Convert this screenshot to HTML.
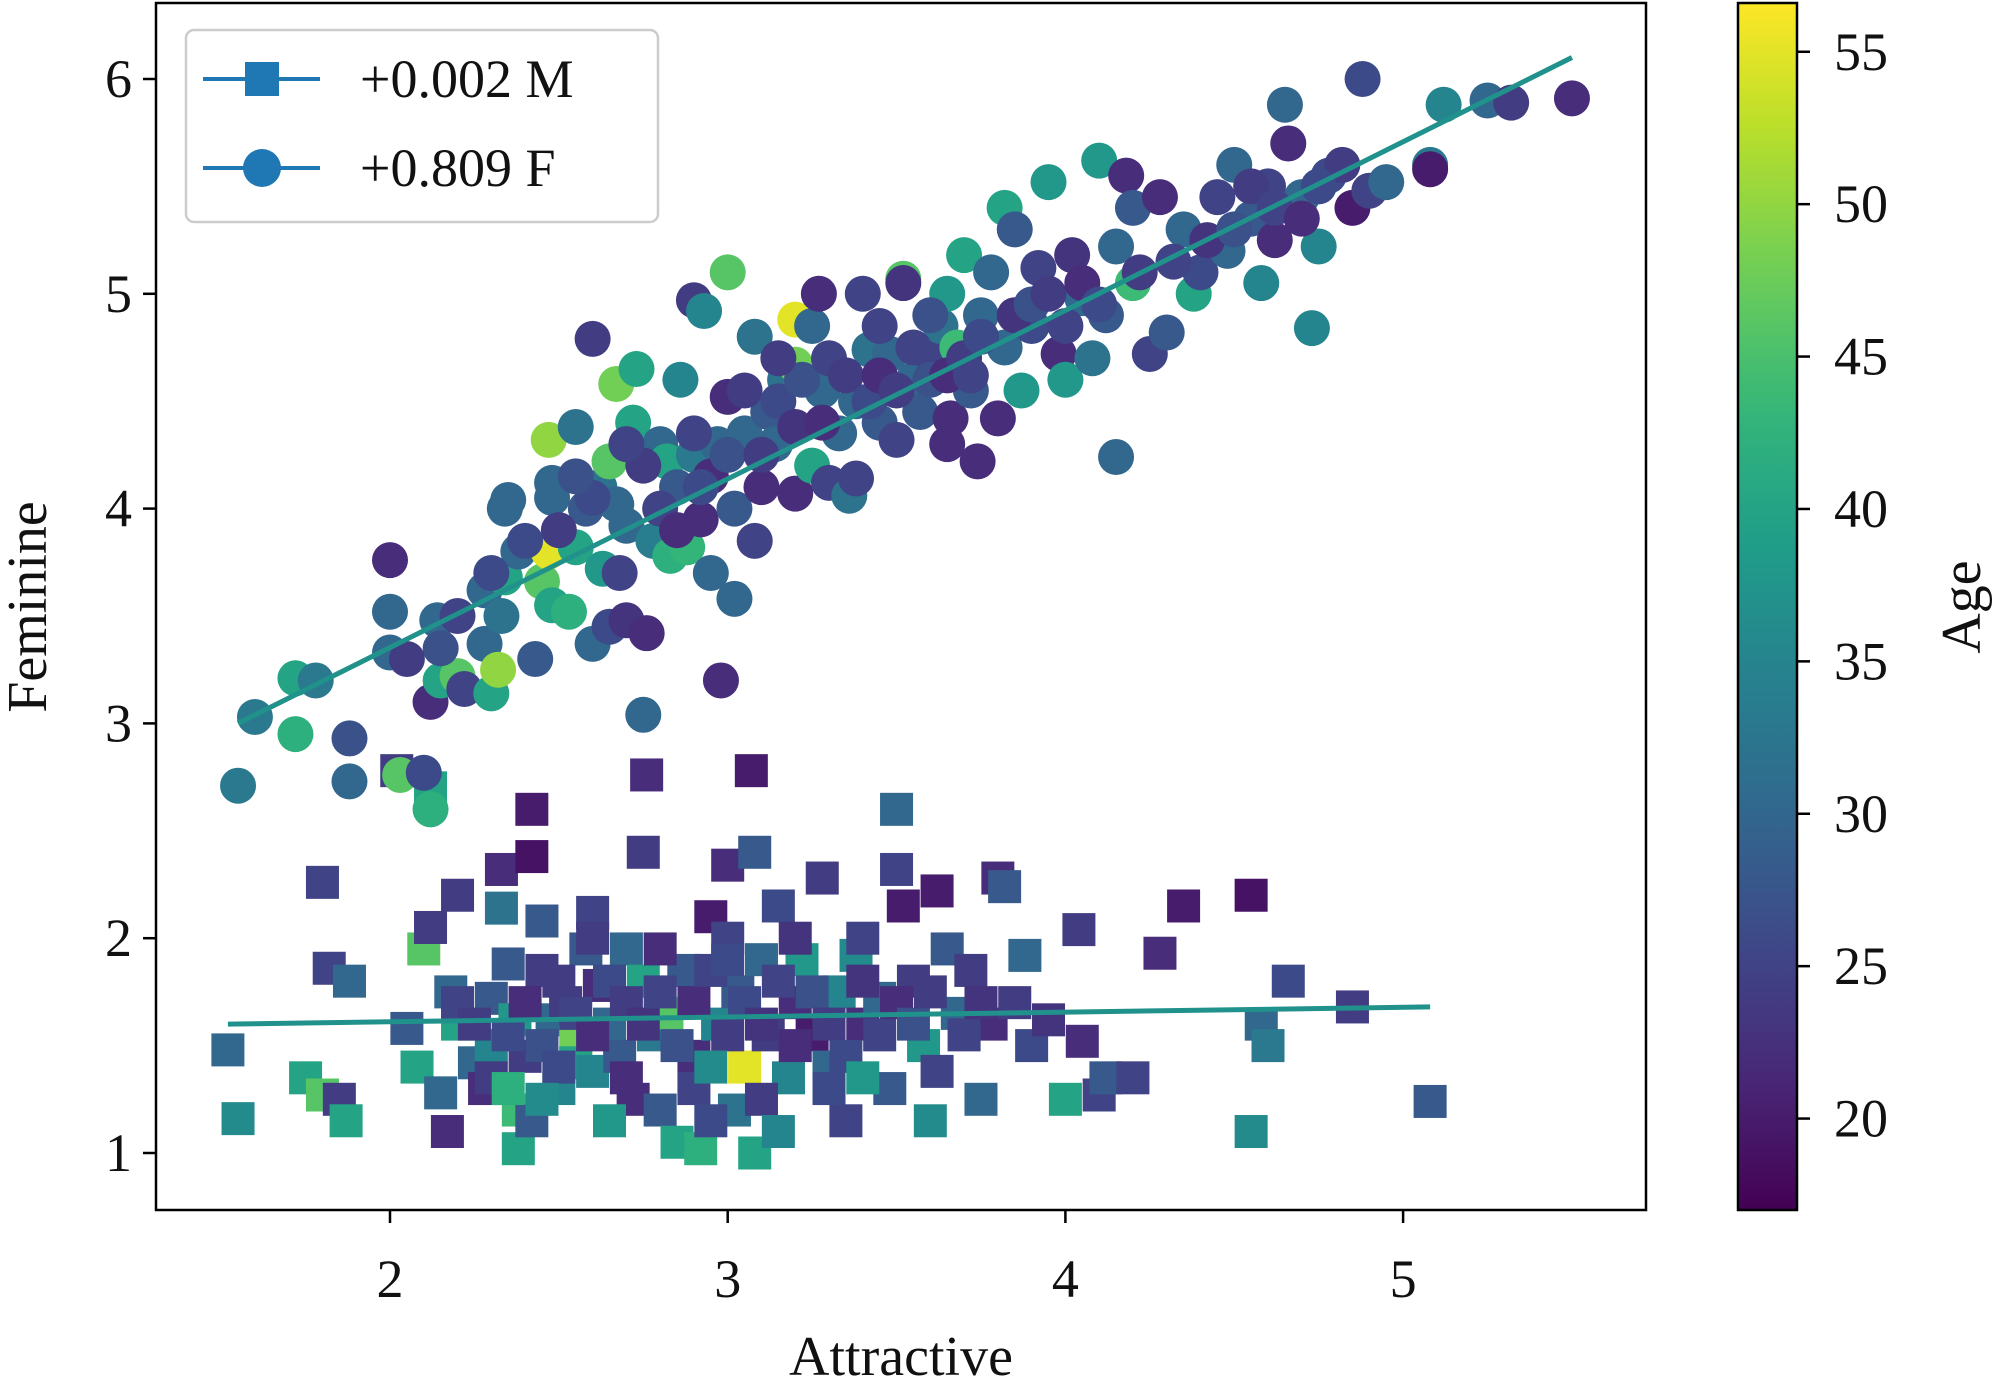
<!DOCTYPE html>
<html><head><meta charset="utf-8"><style>
html,body{margin:0;padding:0;background:#fff;}
svg text{font-family:"Liberation Serif",serif;fill:#111;}
</style></head><body>
<svg id="chart" width="1993" height="1392" viewBox="0 0 1993 1392" xmlns="http://www.w3.org/2000/svg"></svg>
<script>
const xTicks=[2,3,4,5];
const yTicks=[1,2,3,4,5,6];
const cTicks=[20,25,30,35,40,45,50,55];
const femPoints=[[1.55,2.71,33],[1.6,3.03,33],[1.72,3.21,40],[1.72,2.95,42],[1.78,3.2,33],[1.88,2.93,27],[1.88,2.73,30],[2.0,3.76,22],[2.0,3.52,30],[2.0,3.33,30],[2.03,2.76,46],[2.1,2.77,26],[2.12,2.6,42],[2.12,3.1,22],[2.14,3.48,30],[2.15,3.2,40],[2.2,3.22,46],[2.22,3.16,25],[2.28,3.37,30],[2.28,3.62,30],[2.3,3.14,40],[2.32,3.25,50],[2.33,3.5,32],[2.34,3.68,40],[2.34,4.0,30],[2.35,4.04,30],[2.38,3.8,30],[2.43,3.3,28],[2.45,3.66,46],[2.47,3.8,55],[2.47,4.32,50],[2.48,4.12,30],[2.48,4.05,30],[2.48,3.55,40],[2.53,3.52,42],[2.55,3.82,40],[2.55,4.38,32],[2.58,4.0,28],[2.6,4.79,24],[2.6,3.37,30],[2.62,4.1,32],[2.63,3.72,38],[2.65,3.45,26],[2.65,4.22,46],[2.67,4.58,48],[2.67,4.02,30],[2.68,3.7,25],[2.7,3.48,23],[2.7,3.92,30],[2.72,4.4,40],[2.73,4.65,40],[2.75,3.04,30],[2.76,3.42,22],[2.77,4.25,30],[2.78,3.85,34],[2.8,4.3,30],[2.82,4.22,40],[2.83,3.78,42],[2.85,4.1,28],[2.86,4.6,35],[2.88,3.82,43],[2.9,4.97,24],[2.9,4.25,33],[2.92,3.95,22],[2.93,4.92,35],[2.95,3.7,30],[2.97,4.3,30],[2.98,3.2,22],[3.0,5.1,46],[3.0,4.52,22],[3.02,3.58,30],[3.02,4.0,28],[3.05,4.35,30],[3.08,3.85,25],[3.08,4.8,32],[3.1,4.1,22],[3.12,4.45,28],[3.14,4.3,30],[3.17,4.6,32],[3.2,4.07,22],[3.2,4.88,55],[3.2,4.67,48],[3.25,4.85,30],[3.25,4.2,40],[3.27,5.0,22],[3.28,4.55,30],[3.3,4.12,25],[3.33,4.35,30],[3.36,4.06,32],[3.38,4.14,25],[3.38,4.5,30],[3.4,5.0,25],[3.42,4.74,32],[3.45,4.4,28],[3.48,4.72,30],[3.5,4.32,25],[3.52,5.07,46],[3.52,5.05,23],[3.55,4.6,30],[3.57,4.45,28],[3.6,4.72,25],[3.63,4.85,32],[3.65,5.0,38],[3.66,4.42,22],[3.68,4.75,44],[3.7,5.18,40],[3.72,4.55,28],[3.74,4.22,22],[3.75,4.9,30],[3.78,5.1,30],[3.8,4.42,22],[3.82,5.4,40],[3.82,4.75,30],[3.85,5.3,28],[3.87,4.55,38],[3.9,4.85,26],[3.92,5.12,25],[3.95,5.52,38],[3.98,4.72,22],[4.0,4.6,38],[4.02,5.18,23],[4.05,4.98,30],[4.08,4.7,32],[4.1,5.62,38],[4.12,4.9,28],[4.15,4.24,30],[4.15,5.22,30],[4.18,5.55,22],[4.2,5.4,28],[4.2,5.05,44],[4.25,4.72,25],[4.28,5.45,22],[4.3,4.82,28],[4.35,5.3,30],[4.38,5.0,40],[4.4,5.1,26],[4.45,5.45,25],[4.48,5.2,30],[4.5,5.6,30],[4.55,5.35,28],[4.58,5.05,35],[4.6,5.5,25],[4.62,5.25,22],[4.65,5.88,30],[4.66,5.7,22],[4.7,5.45,30],[4.73,4.84,35],[4.75,5.22,35],[4.78,5.55,26],[4.82,5.6,24],[4.85,5.4,20],[4.88,6.0,26],[4.9,5.48,25],[4.95,5.52,30],[5.08,5.6,33],[5.08,5.58,20],[5.12,5.88,35],[5.25,5.9,30],[5.32,5.89,24],[5.5,5.91,22],
[2.6,4.05,26],[2.75,4.2,24],[2.9,4.35,25],[2.95,4.15,22],[3.0,4.25,27],[3.05,4.55,24],[3.15,4.5,26],[3.2,4.38,23],[3.22,4.6,27],[3.3,4.7,25],[3.35,4.62,24],[3.42,4.5,26],[3.45,4.62,22],[3.55,4.75,25],[3.6,4.6,27],[3.65,4.62,22],[3.7,4.7,24],[3.75,4.8,26],[3.85,4.9,23],[3.9,4.95,27],[3.95,5.0,24],[4.0,4.85,25],[4.05,5.05,22],[4.1,4.95,26],[4.22,5.1,24],[4.32,5.15,25],[4.42,5.25,23],[4.5,5.3,27],[4.55,5.5,24],[4.62,5.4,25],[4.7,5.35,22],[4.75,5.5,26],[2.4,3.85,26],[2.5,3.9,24],[2.55,4.15,27],[2.8,4.0,25],[2.85,3.9,22],[2.92,4.1,26],[3.1,4.25,24],[3.28,4.4,22],[3.5,4.55,24],[3.72,4.62,25],[3.6,4.9,27],[3.45,4.85,25],[2.3,3.7,26],[2.2,3.5,25],[2.15,3.35,27],[2.05,3.3,24],[3.65,4.3,22],[3.15,4.7,24],[2.7,4.3,25]];
const malePoints=[[1.52,1.48,30],[1.55,1.16,36],[1.75,1.35,40],[1.8,1.27,46],[1.8,2.26,25],[1.82,1.86,25],[1.85,1.25,24],[1.87,1.15,40],[1.88,1.8,30],[2.02,2.78,24],[2.05,1.58,28],[2.08,1.4,40],[2.1,1.95,46],[2.12,2.7,40],[2.12,2.05,24],[2.15,1.28,30],[2.17,1.1,22],[2.18,1.75,30],[2.2,1.6,40],[2.2,2.2,24],[2.25,1.42,30],[2.28,1.3,22],[2.3,1.5,35],[2.3,1.72,28],[2.33,2.32,22],[2.33,2.14,32],[2.35,1.88,28],[2.37,1.62,38],[2.38,1.2,44],[2.38,1.02,40],[2.4,1.45,24],[2.42,1.15,28],[2.42,2.38,19],[2.42,2.6,20],[2.45,2.08,28],[2.45,1.85,24],[2.48,1.62,30],[2.5,1.3,35],[2.52,1.7,24],[2.55,1.52,48],[2.55,1.42,40],[2.58,1.95,28],[2.6,2.12,25],[2.6,1.38,35],[2.62,1.78,22],[2.65,1.6,30],[2.68,1.45,28],[2.7,1.95,30],[2.72,1.25,22],[2.75,2.4,24],[2.75,1.8,40],[2.76,2.76,22],[2.78,1.55,33],[2.8,1.2,28],[2.82,1.65,46],[2.85,1.05,40],[2.87,1.85,28],[2.9,1.45,22],[2.92,1.02,42],[2.95,2.1,20],[2.97,1.6,35],[3.0,2.0,25],[3.0,2.34,22],[3.02,1.2,32],[3.03,1.75,28],[3.05,1.4,55],[3.07,2.78,20],[3.08,1.0,40],[3.08,2.4,28],[3.1,1.9,30],[3.12,1.55,24],[3.15,2.15,26],[3.18,1.35,35],[3.2,1.7,22],[3.22,1.9,38],[3.25,1.55,20],[3.28,2.28,24],[3.3,1.4,30],[3.33,1.75,35],[3.35,1.15,25],[3.38,1.92,36],[3.4,1.6,22],[3.45,1.72,30],[3.48,1.3,28],[3.5,2.6,30],[3.5,2.32,25],[3.52,2.15,20],[3.55,1.8,24],[3.58,1.5,38],[3.6,1.15,36],[3.62,2.22,20],[3.62,1.38,25],[3.65,1.95,28],[3.68,1.65,30],[3.72,1.85,24],[3.75,1.25,30],[3.78,1.6,22],[3.8,2.28,22],[3.82,2.24,28],[3.85,1.7,24],[3.88,1.92,30],[3.9,1.5,26],[3.95,1.62,23],[4.0,1.25,40],[4.04,2.04,24],[4.05,1.52,22],[4.1,1.27,25],[4.12,1.35,28],[4.2,1.35,25],[4.28,1.93,22],[4.35,2.15,20],[4.55,2.2,19],[4.55,1.1,36],[4.58,1.6,30],[4.6,1.5,33],[4.66,1.8,26],[4.85,1.68,24],[5.08,1.24,28],
[2.2,1.7,25],[2.25,1.6,24],[2.35,1.55,26],[2.4,1.7,22],[2.45,1.5,27],[2.5,1.8,24],[2.55,1.65,25],[2.6,1.55,22],[2.65,1.8,26],[2.7,1.7,24],[2.75,1.6,23],[2.8,1.75,25],[2.85,1.5,27],[2.9,1.7,22],[2.95,1.85,25],[3.0,1.55,24],[3.05,1.7,26],[3.1,1.6,23],[3.15,1.8,25],[3.2,1.5,22],[3.25,1.75,27],[3.3,1.6,24],[3.35,1.45,26],[3.4,1.8,23],[3.45,1.55,25],[3.5,1.7,22],[3.55,1.6,27],[3.6,1.75,24],[3.7,1.55,25],[3.75,1.7,23],[2.3,1.35,24],[2.5,1.4,26],[2.7,1.35,22],[2.9,1.3,25],[3.1,1.25,24],[3.3,1.3,26],[2.6,2.0,24],[2.8,1.95,22],[3.0,1.9,26],[3.2,2.0,23],[3.4,2.0,25],[2.45,1.25,36],[2.65,1.15,38],[2.95,1.15,26],[3.15,1.1,35],[2.35,1.3,42],[2.95,1.4,36],[3.4,1.35,38]];
const femLine=[[1.55,3.0],[5.5,6.1]];
const maleLine=[[1.52,1.6],[5.08,1.68]];
const legendLabels=["+0.002 M","+0.809 F"];
const ageRange=[17,56.6];

const NS="http://www.w3.org/2000/svg";
const svg=document.getElementById('chart');
const PL=156,PR=1646,PT=3,PB=1210;
const sx=v=>390+(v-2)*337.7;
const sy=v=>1153-(v-1)*214.8;
const CL=1738,CR=1797;
const cy=v=>PB-(v-ageRange[0])/(ageRange[1]-ageRange[0])*(PB-PT);
const vir=[[68,1,84],[72,40,120],[62,73,137],[49,104,142],[38,130,142],[31,158,137],[53,183,121],[110,206,88],[181,222,43],[253,231,37]];
function viridis(t){t=Math.max(0,Math.min(1,t));const f=t*(vir.length-1);const i=Math.min(vir.length-2,Math.floor(f));const r=f-i;const c=vir[i].map((a,k)=>Math.round(a+(vir[i+1][k]-a)*r));return `rgb(${c[0]},${c[1]},${c[2]})`;}
const ageColor=a=>viridis((a-ageRange[0])/(ageRange[1]-ageRange[0]));
function el(tag,attrs,parent){const e=document.createElementNS(NS,tag);for(const k in attrs)e.setAttribute(k,attrs[k]);(parent||svg).appendChild(e);return e;}

const defs=el('defs',{});
const cp=el('clipPath',{id:'pc'},defs);
el('rect',{x:PL,y:PT,width:PR-PL,height:PB-PT},cp);
const grad=el('linearGradient',{id:'cg',x1:0,y1:1,x2:0,y2:0},defs);
for(let i=0;i<=20;i++){el('stop',{offset:i/20,'stop-color':viridis(i/20)},grad);}

const marks=el('g',{'clip-path':'url(#pc)'});


malePoints.forEach(p=>{const r=el('rect',{x:sx(p[0])-16.5,y:sy(p[1])-16.5,width:33,height:33,fill:ageColor(p[2])},marks);

});
femPoints.forEach(p=>{const c=el('circle',{cx:sx(p[0]),cy:sy(p[1]),r:18,fill:ageColor(p[2])},marks);

});
const l1=el('line',{x1:sx(maleLine[0][0]),y1:sy(maleLine[0][1]),x2:sx(maleLine[1][0]),y2:sy(maleLine[1][1]),stroke:'#21918c','stroke-width':5},marks);


const l2=el('line',{x1:sx(femLine[0][0]),y1:sy(femLine[0][1]),x2:sx(femLine[1][0]),y2:sy(femLine[1][1]),stroke:'#21918c','stroke-width':5},marks);



const frame=el('rect',{x:PL,y:PT,width:PR-PL,height:PB-PT,fill:'none',stroke:'#000','stroke-width':2.5});



xTicks.forEach(v=>{const x=sx(v);el('line',{x1:x,y1:PB,x2:x,y2:PB+13,stroke:'#000','stroke-width':2.5});
const t=el('text',{x:x,y:1297,'font-size':54,'text-anchor':'middle'});t.textContent=v;

});
yTicks.forEach(v=>{const y=sy(v);el('line',{x1:PL-13,y1:y,x2:PL,y2:y,stroke:'#000','stroke-width':2.5});
const t=el('text',{x:PL-24,y:y+18,'font-size':54,'text-anchor':'end'});t.textContent=v;

});

const xl=el('text',{x:901,y:1375,'font-size':56,'text-anchor':'middle'});xl.textContent='Attractive';


const yl=el('text',{x:0,y:0,'font-size':56,'text-anchor':'middle',transform:'translate(46,607) rotate(-90)'});yl.textContent='Feminine';



const cb=el('rect',{x:CL,y:PT,width:CR-CL,height:PB-PT,fill:'url(#cg)',stroke:'#000','stroke-width':2.5});


cTicks.forEach(v=>{const y=cy(v);el('line',{x1:CR,y1:y,x2:CR+13,y2:y,stroke:'#000','stroke-width':2.5});
const t=el('text',{x:1834,y:y+18,'font-size':54});t.textContent=v;

});
const cl=el('text',{x:0,y:0,'font-size':56,'text-anchor':'middle',transform:'translate(1980,607) rotate(-90)'});cl.textContent='Age';



const lg=el('g',{});


el('rect',{x:186,y:30,width:472,height:192,rx:8,fill:'#fff',stroke:'#ccc','stroke-width':2.5},lg);
[79,168].forEach((y,i)=>{
const g=el('g',{},lg);


el('line',{x1:203,y1:y,x2:320,y2:y,stroke:'#1f77b4','stroke-width':4},g);
if(i===0)el('rect',{x:245,y:y-17,width:34,height:34,fill:'#1f77b4'},g);
else el('circle',{cx:262,cy:y,r:19,fill:'#1f77b4'},g);
const t=el('text',{x:360,y:y+18,'font-size':54},g);t.textContent=legendLabels[i];});
</script>
</body></html>
